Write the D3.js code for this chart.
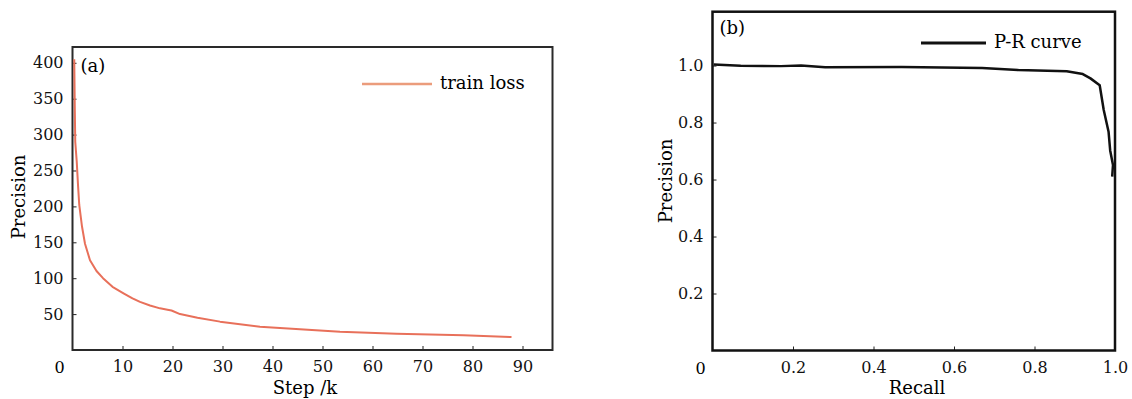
<!DOCTYPE html>
<html>
<head>
<meta charset="utf-8">
<script src="https://cdn.jsdelivr.net/npm/d3@7"></script>
<style>
  body { margin: 0; background: #fff; }
  svg { display: block; }
</style>
</head>
<body>
<svg id="chart" width="1132" height="399"></svg>
<script>
"use strict";

var SERIF = "'DejaVu Serif', serif";

// (a) courbe de perte : pas (k) et valeur
var lossSteps = [0.35, 0.45, 0.55, 0.85, 1.1, 1.35, 1.9, 2.5, 3.5, 4.8, 6.1, 8, 10.2, 12, 13.5, 15.5, 17.5, 19, 19.8, 21.5, 25, 29.5, 37.5, 45.5, 53.5, 64.8, 78.2, 87.8];
var lossValues = [405, 340, 290, 262, 230, 202, 172, 148, 125, 110, 100, 88, 79, 72, 67, 62, 58, 56, 55, 50, 45, 39.5, 32.5, 28.8, 25.5, 22.7, 20.4, 18];
var lossTicksX = [10, 20, 30, 40, 50, 60, 70, 80, 90];
var lossTicksY = [50, 100, 150, 200, 250, 300, 350, 400];

// (b) courbe P-R
var recall = [0.003, 0.07, 0.17, 0.22, 0.28, 0.47, 0.67, 0.76, 0.88, 0.92, 0.939, 0.962, 0.972, 0.984, 0.988, 0.995, 0.993];
var precision = [1.004, 0.999, 0.998, 1.0, 0.994, 0.995, 0.991, 0.984, 0.98, 0.97, 0.955, 0.931, 0.844, 0.768, 0.702, 0.651, 0.61];
var prTicksX = [0.2, 0.4, 0.6, 0.8, 1.0];
var prTicksY = [0.2, 0.4, 0.6, 0.8, 1.0];

var svg = d3.select("#chart").style("font-family", SERIF);
svg.append("rect").attr("width", 1132).attr("height", 399).attr("fill", "#fff");

/**
 * Applique la police et la couleur aux graduations d'un axe.
 */
function styleAxis(a) {
  a.select(".domain").remove();
  a.attr("font-family", SERIF).attr("font-size", 16);
  a.selectAll(".tick text")
    .style("font-family", SERIF)
    .style("font-size", "16px")
    .attr("fill", "#111");
  a.selectAll(".tick line").attr("stroke", "#222");
}

/**
 * Dessine un panneau : axes, cadre, courbe et légende.
 */
function panel(opts) {
  var g = svg.append("g");
  var x = d3.scaleLinear().domain(opts.xDomain).range(opts.xRange);
  var y = d3.scaleLinear().domain(opts.yDomain).range(opts.yRange);

  // axe X, graduations vers l'intérieur
  var ax = g.append("g")
    .attr("transform", "translate(0," + opts.yRange[0] + ")")
    .call(d3.axisBottom(x).tickValues(opts.xTicks).tickSizeInner(-4).tickSizeOuter(0)
      .tickPadding(11).tickFormat(opts.xFormat));
  styleAxis(ax);

  var ay = g.append("g")
    .attr("transform", "translate(" + opts.xRange[0] + ",0)")
    .call(d3.axisLeft(y).tickValues(opts.yTicks).tickSizeInner(-4).tickSizeOuter(0)
      .tickPadding(9).tickFormat(opts.yFormat));
  styleAxis(ay);

  // origine commune "0"
  g.append("text")
    .attr("x", opts.xRange[0] + opts.zeroDx)
    .attr("y", opts.yRange[0] + 23)
    .attr("text-anchor", "middle")
    .style("font-size", "16px")
    .text("0");

  // cadre
  g.append("rect")
    .attr("x", opts.xRange[0])
    .attr("y", opts.yRange[1])
    .attr("width", opts.xRange[1] - opts.xRange[0])
    .attr("height", opts.yRange[0] - opts.yRange[1])
    .attr("fill", "none")
    .attr("stroke", opts.frameColor)
    .attr("stroke-width", opts.frameWidth);

  // courbe
  var pts = opts.xs.map(function (d, i) { return [d, opts.ys[i]]; });
  g.append("path")
    .datum(pts)
    .attr("fill", "none")
    .attr("stroke", opts.lineColor)
    .attr("stroke-width", opts.lineWidth)
    .attr("stroke-linejoin", "round")
    .attr("d", d3.line()
      .x(function (d) { return x(d[0]); })
      .y(function (d) { return y(d[1]); }));

  // étiquettes des axes
  g.append("text")
    .attr("x", opts.xLabelX)
    .attr("y", 394)
    .attr("text-anchor", "middle")
    .style("font-size", "18px")
    .text(opts.xLabel);

  g.append("text")
    .attr("transform", "translate(" + opts.yLabelX + "," + opts.yLabelY + ") rotate(-90)")
    .attr("text-anchor", "middle")
    .attr("dy", "0.35em")
    .style("font-size", "18px")
    .text("Precision");

  // lettre du panneau
  g.append("text")
    .attr("x", opts.xRange[0] + opts.tagDx)
    .attr("y", opts.tagY)
    .attr("dy", "0.35em")
    .style("font-size", "18px")
    .text(opts.tag);

  // légende
  var leg = g.append("g").attr("transform", "translate(" + opts.legX + "," + opts.legY + ")");
  leg.append("line")
    .attr("x1", 0).attr("x2", opts.legLen)
    .attr("stroke", opts.legColor)
    .attr("stroke-width", opts.lineWidth + 0.5);
  leg.append("text")
    .attr("x", opts.legLen + 8)
    .attr("dy", "0.3em")
    .style("font-size", "18px")
    .text(opts.legText);
}

panel({
  xDomain: [0, 96], xRange: [72.5, 552.5],
  yDomain: [0, 422], yRange: [350, 47],
  xTicks: lossTicksX, yTicks: lossTicksY,
  xFormat: d3.format("d"), yFormat: d3.format("d"),
  zeroDx: -13,
  frameColor: "#2a2a2a", frameWidth: 2,
  xs: lossSteps, ys: lossValues,
  lineColor: "#e8705a", lineWidth: 2,
  xLabel: "Step /k", xLabelX: 305,
  yLabelX: 19, yLabelY: 197,
  tag: "(a)", tagDx: 8, tagY: 66,
  legX: 362, legY: 84, legLen: 70, legColor: "#eb9c7c", legText: "train loss"
});

panel({
  xDomain: [0, 1], xRange: [712.5, 1115],
  yDomain: [0, 1.189], yRange: [350.5, 11.7],
  xTicks: prTicksX, yTicks: prTicksY,
  xFormat: d3.format(".1f"), yFormat: d3.format(".1f"),
  zeroDx: -12,
  frameColor: "#111", frameWidth: 2.5,
  xs: recall, ys: precision,
  lineColor: "#111", lineWidth: 2.5,
  xLabel: "Recall", xLabelX: 917,
  yLabelX: 666, yLabelY: 181,
  tag: "(b)", tagDx: 7, tagY: 28,
  legX: 921, legY: 43, legLen: 65, legColor: "#111", legText: "P-R curve"
});
</script>
</body>
</html>
